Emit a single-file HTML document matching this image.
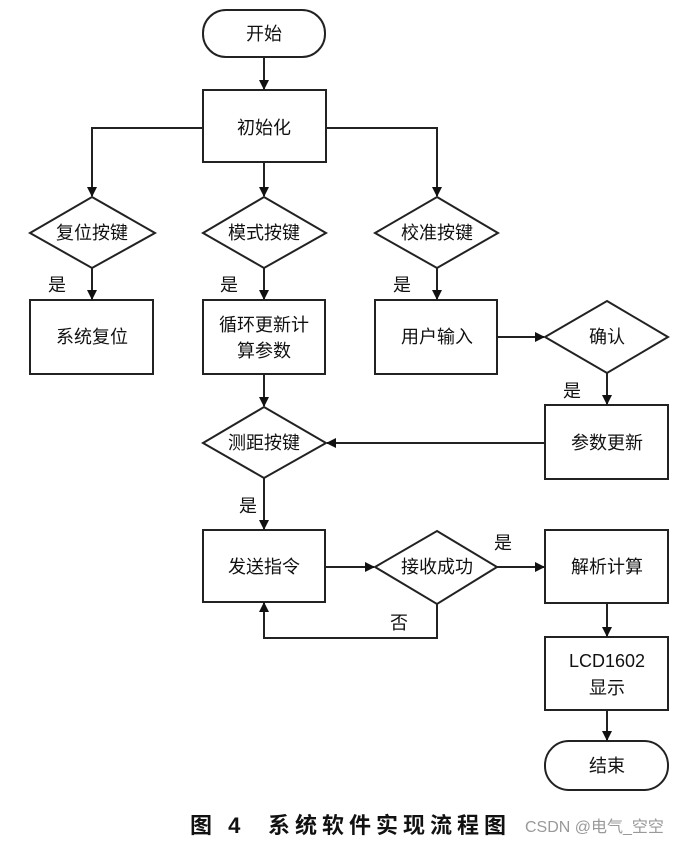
<!DOCTYPE html>
<html><head><meta charset="utf-8"><style>
body{margin:0;background:#fff;}
svg text{font-family:"Liberation Sans","Noto Sans CJK SC",sans-serif;fill:#111;}
</style></head><body>
<svg width="697" height="844" viewBox="0 0 697 844" xmlns="http://www.w3.org/2000/svg">
<defs><marker id="a" markerWidth="10" markerHeight="10" refX="9" refY="5" orient="auto" markerUnits="userSpaceOnUse"><path d="M0,0 L10,5 L0,10 z" fill="#111"/></marker></defs>
<g stroke="#222" stroke-width="2" fill="#fff">
<rect x="203" y="10" width="122" height="47" rx="23"/>
<rect x="203" y="90" width="123" height="72"/>
<polygon points="92,197 155,233 92,268 30,233"/>
<polygon points="264,197 326,233 264,268 203,233"/>
<polygon points="437,197 498,233 437,268 375,233"/>
<rect x="30" y="300" width="123" height="74"/>
<rect x="203" y="300" width="122" height="74"/>
<rect x="375" y="300" width="122" height="74"/>
<polygon points="607,301 668,337 607,373 545,337"/>
<rect x="545" y="405" width="123" height="74"/>
<polygon points="264,407 326,443 264,478 203,443"/>
<rect x="203" y="530" width="122" height="72"/>
<polygon points="437,531 497,567 437,604 375,567"/>
<rect x="545" y="530" width="123" height="73"/>
<rect x="545" y="637" width="123" height="73"/>
<rect x="545" y="741" width="123" height="49" rx="24"/>
</g>
<g stroke="#222" stroke-width="2" fill="none" marker-end="url(#a)">
<line x1="264" y1="57" x2="264" y2="89"/>
<polyline points="203,128 92,128 92,196"/>
<line x1="264" y1="162" x2="264" y2="196"/>
<polyline points="326,128 437,128 437,196"/>
<line x1="92" y1="268" x2="92" y2="299"/>
<line x1="264" y1="268" x2="264" y2="299"/>
<line x1="437" y1="268" x2="437" y2="299"/>
<line x1="497" y1="337" x2="544" y2="337"/>
<line x1="607" y1="373" x2="607" y2="404"/>
<line x1="264" y1="374" x2="264" y2="406"/>
<line x1="545" y1="443" x2="327" y2="443"/>
<line x1="264" y1="478" x2="264" y2="529"/>
<line x1="325" y1="567" x2="374" y2="567"/>
<line x1="497" y1="567" x2="544" y2="567"/>
<polyline points="437,604 437,638 264,638 264,603"/>
<line x1="607" y1="603" x2="607" y2="636"/>
<line x1="607" y1="710" x2="607" y2="740"/>
</g>
<g font-size="18" text-anchor="middle">
<text x="264" y="40">开始</text>
<text x="264" y="134">初始化</text>
<text x="92" y="239">复位按键</text>
<text x="264" y="239">模式按键</text>
<text x="437" y="239">校准按键</text>
<text x="92" y="343">系统复位</text>
<text x="264" y="331">循环更新计</text>
<text x="264" y="357">算参数</text>
<text x="437" y="343">用户输入</text>
<text x="607" y="343">确认</text>
<text x="607" y="449">参数更新</text>
<text x="264" y="449">测距按键</text>
<text x="264" y="573">发送指令</text>
<text x="437" y="573">接收成功</text>
<text x="607" y="573">解析计算</text>
<text x="607" y="667">LCD1602</text>
<text x="607" y="694">显示</text>
<text x="607" y="772">结束</text>
<text x="57" y="291">是</text>
<text x="229" y="291">是</text>
<text x="402" y="291">是</text>
<text x="572" y="397">是</text>
<text x="248" y="512">是</text>
<text x="503" y="549">是</text>
<text x="399" y="629">否</text>
</g>
<text x="190" y="833" font-size="22" font-weight="bold" letter-spacing="5">图 4</text>
<text x="268" y="833" font-size="22" font-weight="bold" letter-spacing="5">系统软件实现流程图</text>
<text x="525" y="832" font-size="16" style="fill:#999">CSDN @电气_空空</text>
</svg>
</body></html>
